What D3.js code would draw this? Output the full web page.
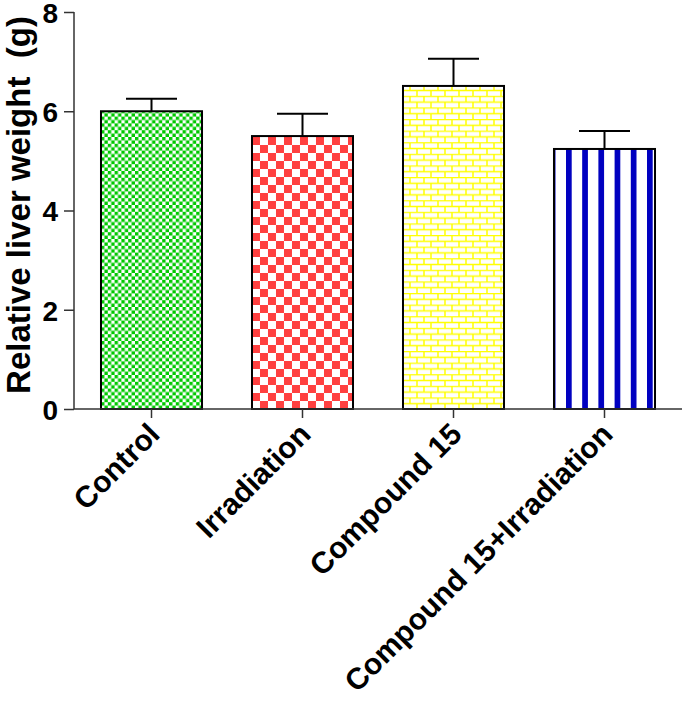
<!DOCTYPE html>
<html><head><meta charset="utf-8">
<script src="https://cdn.jsdelivr.net/npm/d3@7"></script>
<style>body{margin:0;background:#fff}svg{display:block}text{font-family:"Liberation Sans",Arial,sans-serif;font-weight:bold}</style>
</head><body><svg id="c" width="689" height="706"></svg>
<script>
const categories = ["Control","Irradiation","Compound 15","Compound 15+Irradiation"];
const means = [6.0, 5.5, 6.51, 5.24];
const errors = [0.25, 0.45, 0.55, 0.36];
const yTicks = [0,2,4,6,8];
const yLabel = "Relative liver weight  (g)";

const svg = d3.select("#c");
const x = d3.scaleBand().domain(categories).range([76,680]).paddingInner(0.331).paddingOuter(0.1655);
const y = d3.scaleLinear().domain([0,8]).range([409,12]);
const defs = svg.append("defs");

function pat(id, w, h, bx){
  return defs.append("pattern").attr("id",id).attr("patternUnits","userSpaceOnUse")
    .attr("width",w).attr("height",h).attr("x",bx).attr("y",y(0));
}
const bx = categories.map(c=>x(c));
// green checker
let p = pat("p0",6.8,6.8,bx[0]);
p.append("rect").attr("width",6.8).attr("height",6.8).attr("fill","#fff");
p.append("rect").attr("width",3.4).attr("height",3.4).attr("fill","#00c800");
p.append("rect").attr("x",3.4).attr("y",3.4).attr("width",3.4).attr("height",3.4).attr("fill","#00c800");
// red checker
p = pat("p1",16,16,bx[1]);
p.append("rect").attr("width",16).attr("height",16).attr("fill","#fff");
p.append("rect").attr("width",8).attr("height",8).attr("fill","#ff4040");
p.append("rect").attr("x",8).attr("y",8).attr("width",8).attr("height",8).attr("fill","#ff4040");
// yellow brick
p = pat("p2",28,11.6,bx[2]);
p.append("rect").attr("width",28).attr("height",11.6).attr("fill","#fff");
const bp = p.append("g").attr("stroke","#ffff00").attr("stroke-width",1.5).attr("fill","none");
bp.append("line").attr("x1",0).attr("x2",28).attr("y1",0.5).attr("y2",0.5);
bp.append("line").attr("x1",0).attr("x2",28).attr("y1",6.3).attr("y2",6.3);
bp.append("line").attr("x1",7).attr("x2",7).attr("y1",0.5).attr("y2",6.3);
bp.append("line").attr("x1",21).attr("x2",21).attr("y1",0.5).attr("y2",6.3);
bp.append("line").attr("x1",14).attr("x2",14).attr("y1",6.3).attr("y2",11.6);
bp.append("line").attr("x1",0).attr("x2",0).attr("y1",6.3).attr("y2",11.6);
bp.append("line").attr("x1",28).attr("x2",28).attr("y1",6.3).attr("y2",11.6);
// blue stripes
p = pat("p3",16.2,10,bx[3]+12);
p.append("rect").attr("width",16.2).attr("height",10).attr("fill","#fff");
p.append("rect").attr("x",0).attr("width",5.7).attr("height",10).attr("fill","#0000c0");

// bars
svg.append("g").selectAll("rect").data(categories).join("rect")
  .attr("x",d=>x(d)).attr("width",x.bandwidth())
  .attr("y",(d,i)=>y(means[i])).attr("height",(d,i)=>y(0)-y(means[i]))
  .attr("fill",(d,i)=>`url(#p${i})`).attr("stroke","#000").attr("stroke-width",2);

// error bars
const eg = svg.append("g").attr("stroke","#000").attr("stroke-width",2);
categories.forEach((c,i)=>{
  const cx = x(c)+x.bandwidth()/2;
  eg.append("line").attr("x1",cx).attr("x2",cx).attr("y1",y(means[i])).attr("y2",y(means[i]+errors[i]));
  eg.append("line").attr("x1",cx-25.5).attr("x2",cx+25.5).attr("y1",y(means[i]+errors[i])).attr("y2",y(means[i]+errors[i]));
});

// y axis
const ya = svg.append("g").attr("transform","translate(74,0)")
  .call(d3.axisLeft(y).tickValues(yTicks).tickSize(10).tickSizeOuter(0).tickPadding(6));
ya.selectAll("path,line").attr("stroke","#333").attr("stroke-width",1.5);
ya.selectAll("text").attr("font-size",28).attr("fill","#000").attr("dy","0.37em")
  .style("font-family","Liberation Sans, Arial").style("font-weight","bold");
ya.select(".domain").attr("d","M0,409V12");

// x axis
const xa = svg.append("g").attr("transform","translate(0,409)")
  .call(d3.axisBottom(x).tickSize(9).tickSizeOuter(0));
xa.select(".domain").attr("d","M74,0H682");
xa.selectAll("path,line").attr("stroke","#333").attr("stroke-width",1.5);
xa.selectAll("text").attr("font-size",30).attr("fill","#000")
  .style("font-family","Liberation Sans, Arial").style("font-weight","bold")
  .attr("text-anchor","end").attr("dy",null).attr("y",0)
  .attr("transform","translate(10,27) rotate(-45)");

// y label
svg.append("text").attr("transform","translate(30,205) rotate(-90)")
  .attr("text-anchor","middle").attr("font-size",33).attr("fill","#000")
  .style("white-space","pre").text(yLabel);
</script></body></html>
